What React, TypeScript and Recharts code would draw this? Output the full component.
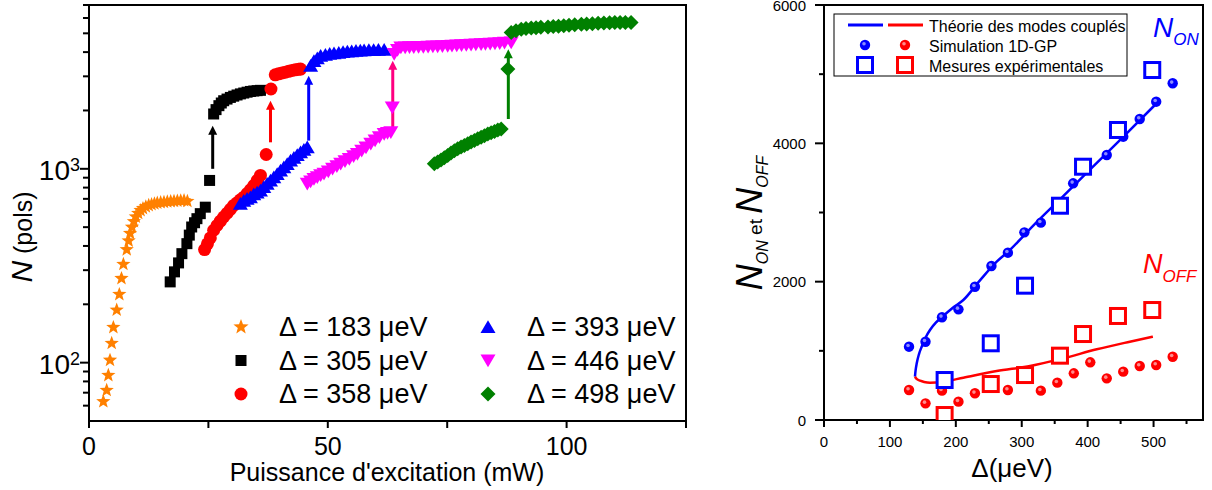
import React from 'react';
import { ComposedChart, Scatter, Line, XAxis, YAxis, ReferenceLine, ReferenceArea } from 'recharts';

const FONT = 'Arial, "Liberation Sans", sans-serif';

// left panel: N (pols) vs pump power (mW), one list of [power, N] per detuning
const s183: [number, number][] = [
  [3.0, 63], [3.7, 72], [4.05, 86], [4.4, 103], [4.75, 126], [5.1, 152], [5.8, 187], [6.35, 225],
  [6.8, 272], [7.2, 322], [7.9, 383], [8.3, 425], [8.6, 465], [9.0, 500], [9.4, 535], [9.8, 565],
  [10.3, 590], [10.8, 610], [11.3, 625], [11.9, 638], [12.5, 648], [13.1, 655], [13.7, 661],
  [14.3, 666], [15.0, 670], [15.7, 673], [16.4, 676], [17.1, 679], [17.8, 681], [18.5, 683],
  [19.2, 685], [19.9, 686], [20.6, 680],
];
const s305: [number, number][] = [
  [17.0, 261], [17.9, 294], [18.75, 327], [19.45, 365], [20.5, 411], [21.0, 455], [21.5, 501],
  [22.1, 527], [22.6, 553], [23.3, 587], [24.35, 634], [25.25, 871],
  [26.1, 1918], [26.6, 2020], [27.2, 2117], [27.7, 2185], [28.2, 2245], [28.9, 2290], [29.6, 2335],
  [30.3, 2370], [31.0, 2404], [31.7, 2435], [32.4, 2460], [33.1, 2485], [33.8, 2507], [34.5, 2520],
  [35.2, 2530], [35.9, 2540],
];
const s358: [number, number][] = [
  [24.2, 383], [24.8, 410], [25.4, 440], [26.1, 482], [26.8, 510], [27.5, 537], [28.2, 564],
  [28.9, 590], [29.6, 618], [30.3, 647], [31.0, 668], [31.7, 692], [32.4, 714], [33.1, 745],
  [33.8, 780], [34.5, 820], [35.2, 870], [35.9, 924], [37.1, 1185],
  [38.1, 2580], [39.0, 3055], [39.7, 3090], [40.4, 3120], [41.1, 3150], [41.8, 3185], [42.5, 3215],
  [43.2, 3240], [43.9, 3260], [44.3, 3270],
];
const s393: [number, number][] = [
  [31.7, 660], [32.4, 685], [33.1, 700], [33.8, 714], [34.5, 740], [35.2, 755], [35.9, 773],
  [36.6, 805], [37.3, 838], [38.0, 871], [38.7, 905], [39.4, 940], [40.1, 980], [40.8, 1020],
  [41.5, 1060], [42.2, 1104], [42.9, 1140], [43.6, 1180], [44.3, 1217], [45.0, 1255], [45.7, 1291],
  [46.4, 3400], [47.1, 3600], [47.8, 3720], [48.5, 3827], [49.5, 3880], [50.4, 3920], [51.3, 3950],
  [52.3, 3975], [53.2, 4000], [54.1, 4027], [55.0, 4045], [55.9, 4060], [56.8, 4078], [57.6, 4093],
  [58.6, 4100], [59.6, 4105], [60.6, 4108], [61.8, 4110],
];
const s446: [number, number][] = [
  [45.7, 837], [46.4, 860], [47.1, 885], [47.8, 905], [48.5, 925], [49.2, 942], [50.1, 970],
  [51.0, 1000], [51.9, 1030], [52.7, 1061], [53.6, 1095], [54.5, 1125], [55.4, 1160], [56.2, 1194],
  [57.1, 1240], [58.0, 1290], [59.0, 1345], [59.9, 1400], [60.8, 1455], [61.8, 1513], [62.5, 1530],
  [63.2, 1543], [63.5, 2074],
  [63.9, 3906], [64.6, 4100], [65.3, 4226], [66.2, 4230], [67.1, 4235], [68.0, 4240], [69.0, 4245],
  [70.0, 4255], [71.0, 4265], [72.0, 4270], [73.0, 4280], [74.0, 4290], [75.1, 4306], [76.0, 4315],
  [77.0, 4325], [78.0, 4335], [79.0, 4350], [80.0, 4365], [81.0, 4380], [82.1, 4395], [83.0, 4405],
  [84.0, 4420], [85.0, 4435], [86.0, 4450], [87.0, 4465], [88.4, 4479],
];
const s498: [number, number][] = [
  [72.3, 1061], [73.0, 1085], [73.7, 1110], [74.4, 1140], [75.1, 1170], [75.8, 1205], [76.5, 1240],
  [77.2, 1270], [77.9, 1295], [78.6, 1318], [79.3, 1345], [80.0, 1375], [80.7, 1400], [81.4, 1428],
  [82.1, 1455], [82.8, 1480], [83.5, 1510], [84.2, 1535], [84.9, 1560], [85.6, 1585], [86.3, 1607],
  [87.7, 3268],
  [88.4, 5045], [89.4, 5150], [90.5, 5248], [91.5, 5290], [92.6, 5320], [93.6, 5350], [94.6, 5370],
  [96.1, 5395], [97.2, 5420], [98.3, 5445], [99.4, 5470], [100.5, 5500], [101.7, 5530], [103.1, 5570],
  [104.2, 5590], [105.4, 5610], [106.6, 5630], [107.8, 5650], [109.0, 5665], [110.1, 5680],
  [111.2, 5685], [112.3, 5690], [113.5, 5680],
];
// jump arrows: [power, from N, to N, colour]
const jumps: [number, number, number, string][] = [
  [25.9, 1000, 1670, '#000000'],
  [38.0, 1370, 2245, '#FF0000'],
  [46.0, 1398, 3018, '#0000FF'],
  [63.6, 1592, 3606, '#FF0080'],
  [87.8, 1807, 4140, '#008000'],
];
const leftXTicks = [0, 25, 50, 75, 100, 125];
const leftYTicks = [60, 70, 80, 90, 100, 200, 300, 400, 500, 600, 700, 800, 900, 1000, 2000, 3000, 4000, 5000, 6000, 7000];

// right panel: N_ON / N_OFF vs detuning (µeV)
const theoryOn: [number, number][] = [
  [138, 626], [139, 720], [140.7, 820], [144, 950], [148.2, 1060], [154, 1190], [160.8, 1301],
  [170, 1410], [178.6, 1485], [195, 1620], [211.4, 1735], [235, 2000], [262, 2289], [282, 2458],
  [320, 2836], [363, 3238], [400, 3586], [454, 4094], [502, 4554],
];
const theoryOff: [number, number][] = [
  [138, 626], [141, 590], [145.7, 568], [152, 550], [160.8, 540], [181, 554], [211.4, 612],
  [262, 708], [312.6, 781], [363, 892], [413.8, 1022], [464, 1132], [499, 1205],
];
const simOn: [number, number][] = [
  [129, 1060], [154, 1132], [179, 1485], [204, 1600], [229, 1927], [254, 2227], [279, 2419],
  [304, 2713], [329, 2853], [378, 3422], [429, 3831], [454, 4096], [479, 4352], [504, 4602], [529, 4868],
];
const simOff: [number, number][] = [
  [129, 434], [154, 241], [179, 424], [204, 265], [229, 386], [279, 434], [329, 424], [354, 540],
  [379, 675], [404, 834], [429, 602], [454, 699], [479, 781], [504, 795], [529, 915],
];
const expOn: [number, number][] = [
  [183, 578], [253, 1109], [305, 1942], [358, 3098], [393, 3662], [446, 4193], [498, 5060],
];
const expOff: [number, number][] = [
  [183, 72], [253, 520], [305, 650], [358, 930], [393, 1243], [446, 1504], [498, 1590],
];
const rightXTicks = [0, 50, 100, 150, 200, 250, 300, 350, 400, 450, 500, 550];
const rightYTicks = [0, 1000, 2000, 3000, 4000, 5000, 6000];

const pts = (a: [number, number][]) => a.map(([x, y]) => ({ x, y }));

const starPath = (cx: number, cy: number, R: number, r: number) => {
  let d = '';
  for (let i = 0; i < 10; i++) {
    const rad = i % 2 === 0 ? R : r;
    const a = -Math.PI / 2 + (i * Math.PI) / 5;
    d += (i === 0 ? 'M' : 'L') + (cx + rad * Math.cos(a)).toFixed(2) + ',' + (cy + rad * Math.sin(a)).toFixed(2);
  }
  return d + 'Z';
};

const star = (c: string, R = 7.5) => (p: any) => <path d={starPath(p.cx, p.cy, R, R * 0.42)} fill={c} />;
const square = (c: string, s = 11) => (p: any) => <rect x={p.cx - s / 2} y={p.cy - s / 2} width={s} height={s} fill={c} />;
const circle = (c: string, r = 6.5) => (p: any) => <circle cx={p.cx} cy={p.cy} r={r} fill={c} />;
const triUp = (c: string, w = 15) => (p: any) => (
  <polygon points={`${p.cx},${p.cy - w * 0.45} ${p.cx - w / 2},${p.cy + w * 0.4} ${p.cx + w / 2},${p.cy + w * 0.4}`} fill={c} />
);
const triDown = (c: string, w = 15) => (p: any) => (
  <polygon points={`${p.cx},${p.cy + w * 0.45} ${p.cx - w / 2},${p.cy - w * 0.4} ${p.cx + w / 2},${p.cy - w * 0.4}`} fill={c} />
);
const diamond = (c: string, w = 15) => (p: any) => (
  <polygon points={`${p.cx},${p.cy - w / 2} ${p.cx + w / 2},${p.cy} ${p.cx},${p.cy + w / 2} ${p.cx - w / 2},${p.cy}`} fill={c} />
);
const ball = (c: string) => (p: any) => (
  <g>
    <circle cx={p.cx} cy={p.cy} r={5.2} fill={c} />
    <circle cx={p.cx - 1} cy={p.cy - 1.2} r={1.8} fill="#ffffff" fillOpacity={0.55} />
  </g>
);
const openSquare = (c: string) => (p: any) => (
  <rect x={p.cx - 7.5} y={p.cy - 7.5} width={15} height={15} fill="#ffffff" stroke={c} strokeWidth={3} />
);

const arrow = (color: string) => (p: any) => {
  const { x1, y1, x2, y2 } = p;
  return (
    <g>
      <line x1={x1} y1={y1} x2={x2} y2={y2 + 8} stroke={color} strokeWidth={3} />
      <polygon points={`${x2},${y2} ${x2 - 4.5},${y2 + 9} ${x2 + 4.5},${y2 + 9}`} fill={color} />
    </g>
  );
};

const LeftXTick = (props: any) => {
  const { x, y, payload } = props;
  const v = payload.value;
  return (
    <g>
      <line x1={x} y1={y} x2={x} y2={y + 7} stroke="#000" strokeWidth={2} />
      {v % 50 === 0 && (
        <text x={x} y={y + 34} textAnchor="middle" fontSize={25} fontFamily={FONT} fill="#000">{v}</text>
      )}
    </g>
  );
};

const LeftYTick = (props: any) => {
  const { x, y, payload } = props;
  const v = payload.value;
  const major = v === 100 || v === 1000;
  return (
    <g>
      <line x1={x} y1={y} x2={x - (major ? 9 : 6)} y2={y} stroke="#000" strokeWidth={2} />
      {major && (
        <text x={x - 9} y={y + 11} textAnchor="end" fontSize={28} fontFamily={FONT} fill="#000">
          10<tspan fontSize={18} dy={-9}>{v === 100 ? '2' : '3'}</tspan>
        </text>
      )}
    </g>
  );
};

const RightXTick = (props: any) => {
  const { x, y, payload } = props;
  const v = payload.value;
  const major = v % 100 === 0;
  return (
    <g>
      <line x1={x} y1={y} x2={x} y2={y + (major ? 7 : 4)} stroke="#000" strokeWidth={2} />
      {major && (
        <text x={x} y={y + 27} textAnchor="middle" fontSize={15} fontFamily={FONT} fill="#000">{v}</text>
      )}
    </g>
  );
};

const RightYTick = (props: any) => {
  const { x, y, payload } = props;
  const v = payload.value;
  const major = v % 2000 === 0;
  return (
    <g>
      <line x1={x} y1={y} x2={x - (major ? 9 : 5)} y2={y} stroke="#000" strokeWidth={2} />
      {major && (
        <text x={x - 18} y={y + 5.5} textAnchor="end" fontSize={15} fontFamily={FONT} fill="#000">{v}</text>
      )}
    </g>
  );
};

const axisLine = { stroke: '#000', strokeWidth: 2 };

const LeftChart = () => (
  <ComposedChart width={700} height={490} margin={{ top: 5, right: 14, bottom: 0, left: 0 }}>
    <XAxis type="number" dataKey="x" domain={[0, 125]} ticks={leftXTicks} allowDataOverflow interval={0}
      height={69} tickSize={0} tickMargin={0} tickLine={false} axisLine={axisLine} tick={LeftXTick} />
    <YAxis type="number" dataKey="y" scale="log" domain={[50, 7000]} ticks={leftYTicks} allowDataOverflow interval={0}
      width={89} tickSize={0} tickMargin={0} tickLine={false} axisLine={axisLine} tick={LeftYTick} />
    <ReferenceArea x1={0} x2={125} y1={50} y2={7000} fill="none" fillOpacity={0} stroke="#000" strokeWidth={2} />
    {jumps.map(([x, a, b, c]) => (
      <ReferenceLine key={x} segment={[{ x, y: a }, { x, y: b }]} stroke={c} shape={arrow(c)} />
    ))}
    <Scatter data={pts(s183)} shape={star('#FF8000')} isAnimationActive={false} />
    <Scatter data={pts(s305)} shape={square('#000000')} isAnimationActive={false} />
    <Scatter data={pts(s358)} shape={circle('#FF0000')} isAnimationActive={false} />
    <Scatter data={pts(s393)} shape={triUp('#0000FF')} isAnimationActive={false} />
    <Scatter data={pts(s446)} shape={triDown('#FF00FF')} isAnimationActive={false} />
    <Scatter data={pts(s498)} shape={diamond('#008000')} isAnimationActive={false} />
  </ComposedChart>
);

const RightChart = () => (
  <ComposedChart width={500} height={490} margin={{ top: 5, right: 9, bottom: 0, left: 0 }}>
    <XAxis type="number" dataKey="x" domain={[0, 575]} ticks={rightXTicks} allowDataOverflow interval={0}
      height={70} tickSize={0} tickMargin={0} tickLine={false} axisLine={axisLine} tick={RightXTick} />
    <YAxis type="number" dataKey="y" domain={[0, 6000]} ticks={rightYTicks} allowDataOverflow interval={0}
      width={112} tickSize={0} tickMargin={0} tickLine={false} axisLine={axisLine} tick={RightYTick} />
    <ReferenceArea x1={0} x2={575} y1={0} y2={6000} fill="none" fillOpacity={0} stroke="#000" strokeWidth={2} />
    <Line data={pts(theoryOn)} dataKey="y" type="monotone" stroke="#0000FF" strokeWidth={2.5} dot={false} isAnimationActive={false} />
    <Line data={pts(theoryOff)} dataKey="y" type="monotone" stroke="#FF0000" strokeWidth={2.5} dot={false} isAnimationActive={false} />
    <Scatter data={pts(simOn)} shape={ball('#0000FF')} isAnimationActive={false} />
    <Scatter data={pts(simOff)} shape={ball('#FF0000')} isAnimationActive={false} />
    <Scatter data={pts(expOn)} shape={openSquare('#0000FF')} isAnimationActive={false} />
    <Scatter data={pts(expOff)} shape={openSquare('#FF0000')} isAnimationActive={false} />
  </ComposedChart>
);

const legendLeft = [
  { label: '\u0394 = 183 \u03BCeV', shape: star('#FF8000', 8) },
  { label: '\u0394 = 305 \u03BCeV', shape: square('#000000', 11) },
  { label: '\u0394 = 358 \u03BCeV', shape: circle('#FF0000', 6.5) },
  { label: '\u0394 = 393 \u03BCeV', shape: triUp('#0000FF', 15) },
  { label: '\u0394 = 446 \u03BCeV', shape: triDown('#FF00FF', 15) },
  { label: '\u0394 = 498 \u03BCeV', shape: diamond('#008000', 15) },
];

const Overlay = () => (
  <svg width={1212} height={490} style={{ position: 'absolute', left: 0, top: 0, pointerEvents: 'none' }} fontFamily={FONT}>
    {/* left titles */}
    <text x={387} y={481} textAnchor="middle" fontSize={25} fill="#000">Puissance d'excitation (mW)</text>
    <text transform="rotate(-90 32 237)" x={32} y={237} textAnchor="middle" fill="#000">
      <tspan fontStyle="italic" fontSize={30}>N</tspan>
      <tspan fontSize={25}> (pols)</tspan>
    </text>
    {/* left legend */}
    {legendLeft.map((l, i) => {
      const col = Math.floor(i / 3);
      const row = i % 3;
      const sx = col === 0 ? 241 : 488;
      const tx = col === 0 ? 279 : 527;
      const cy = 327 + row * 33.5;
      return (
        <g key={l.label}>
          {l.shape({ cx: sx, cy })}
          <text x={tx} y={cy + 9} fontSize={27} fill="#000">{l.label}</text>
        </g>
      );
    })}
    {/* right titles */}
    <text x={1012} y={477} textAnchor="middle" fontSize={26} fill="#000">{'\u0394(\u03BCeV)'}</text>
    <text transform="rotate(-90 762 223)" x={762} y={223} textAnchor="middle" fill="#000">
      <tspan fontStyle="italic" fontSize={36}>N</tspan>
      <tspan fontStyle="italic" fontSize={16} dy={6}>ON</tspan>
      <tspan fontSize={19} dy={-6}> et </tspan>
      <tspan fontStyle="italic" fontSize={36}>N</tspan>
      <tspan fontStyle="italic" fontSize={16} dy={6}>OFF</tspan>
    </text>
    <text x={1153} y={37} fill="#0000FF" fontStyle="italic">
      <tspan fontSize={28}>N</tspan>
      <tspan fontSize={17} dy={8}>ON</tspan>
    </text>
    <text x={1143} y={273} fill="#FF0000" fontStyle="italic">
      <tspan fontSize={27}>N</tspan>
      <tspan fontSize={17} dy={9}>OFF</tspan>
    </text>
    {/* right legend */}
    <rect x={834} y={14} width={293} height={62} fill="#fff" stroke="#000" strokeWidth={1} />
    <line x1={848} y1={25} x2={883} y2={25} stroke="#0000FF" strokeWidth={3} />
    <line x1={888} y1={25} x2={923} y2={25} stroke="#FF0000" strokeWidth={3} />
    {ball('#0000FF')({ cx: 865, cy: 45 })}
    {ball('#FF0000')({ cx: 905, cy: 45 })}
    {openSquare('#0000FF')({ cx: 865, cy: 65 })}
    {openSquare('#FF0000')({ cx: 905, cy: 65 })}
    <text x={929} y={31.5} fontSize={16} fill="#000">Théorie des modes couplés</text>
    <text x={929} y={51.5} fontSize={16} fill="#000">Simulation 1D-GP</text>
    <text x={929} y={71.5} fontSize={16} fill="#000">Mesures expérimentales</text>
  </svg>
);

export default function App() {
  return (
    <div style={{ position: 'absolute', left: 0, top: 0, width: 1212, height: 490, background: '#fff', fontFamily: FONT }}>
      <div style={{ position: 'absolute', left: 0, top: 0 }}>
        <LeftChart />
      </div>
      <div style={{ position: 'absolute', left: 712, top: 0 }}>
        <RightChart />
      </div>
      <Overlay />
    </div>
  );
}
